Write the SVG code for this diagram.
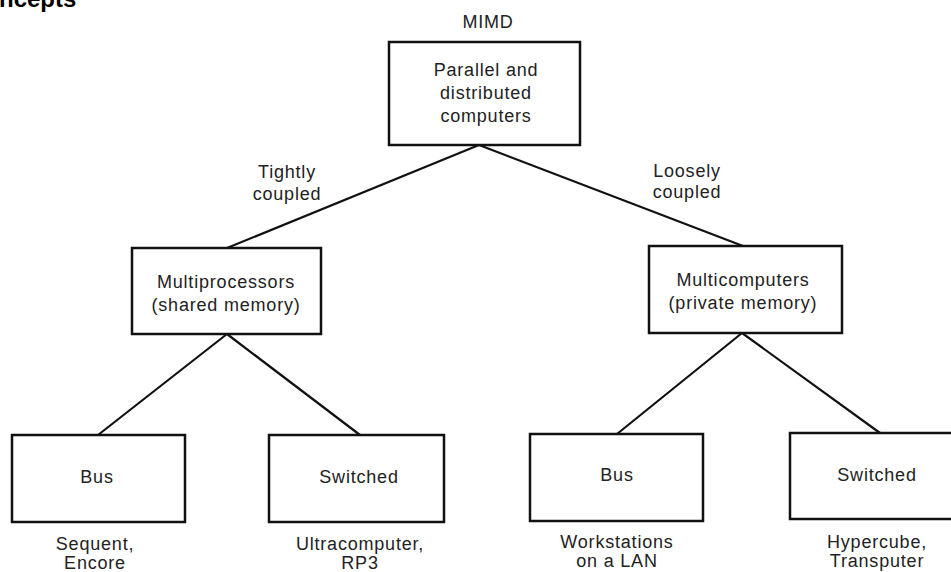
<svg xmlns="http://www.w3.org/2000/svg" width="951" height="572" viewBox="0 0 951 572">
<style>
.box{fill:#fff;stroke:#111;stroke-width:2.5}
.ln{stroke:#111;stroke-width:2.2;fill:none}
text{font-family:"Liberation Sans",Arial,sans-serif;font-size:18px;fill:#222;text-anchor:middle;letter-spacing:0.8px}
.hd{font-weight:bold;font-size:24px;fill:#000;text-anchor:start;letter-spacing:0}
</style>
<rect width="951" height="572" fill="#fff"/>
<text class="hd" x="-1" y="7">ncepts</text>
<g id="connectors">
<path class="ln" d="M479,145 L227,248 M479,145 L743,246"/>
<path class="ln" d="M227,334 L98,435 M227,334 L360,435"/>
<path class="ln" d="M742,333 L617,434 M742,333 L880,433"/>
</g>
<g id="label-tight"><text x="287" y="178">Tightly</text><text x="287" y="200">coupled</text></g>
<g id="label-loose"><text x="687" y="177">Loosely</text><text x="687" y="198">coupled</text></g>
<g id="mimd">
<text x="488" y="28">MIMD</text>
<rect class="box" x="389" y="42" width="191" height="103"/>
<text x="486" y="76">Parallel and</text>
<text x="486" y="99">distributed</text>
<text x="486" y="122">computers</text>
</g>
<g id="multiprocessors">
<rect class="box" x="132" y="248" width="189" height="86"/>
<text x="226" y="288">Multiprocessors</text>
<text x="226" y="311">(shared memory)</text>
</g>
<g id="multicomputers">
<rect class="box" x="649" y="246" width="193" height="87"/>
<text x="743" y="286">Multicomputers</text>
<text x="743" y="309">(private memory)</text>
</g>
<g id="bus-left">
<rect class="box" x="12" y="435" width="173" height="87"/>
<text x="97" y="483">Bus</text>
<text x="95" y="550">Sequent,</text>
<text x="95" y="569">Encore</text>
</g>
<g id="switched-left">
<rect class="box" x="269" y="435" width="175" height="87"/>
<text x="359" y="483">Switched</text>
<text x="360" y="550">Ultracomputer,</text>
<text x="360" y="569">RP3</text>
</g>
<g id="bus-right">
<rect class="box" x="530" y="434" width="173" height="87"/>
<text x="617" y="481">Bus</text>
<text x="617" y="548">Workstations</text>
<text x="617" y="567">on a LAN</text>
</g>
<g id="switched-right">
<rect class="box" x="790" y="433" width="170" height="86"/>
<text x="877" y="481">Switched</text>
<text x="877" y="548">Hypercube,</text>
<text x="877" y="567">Transputer</text>
</g>
</svg>
